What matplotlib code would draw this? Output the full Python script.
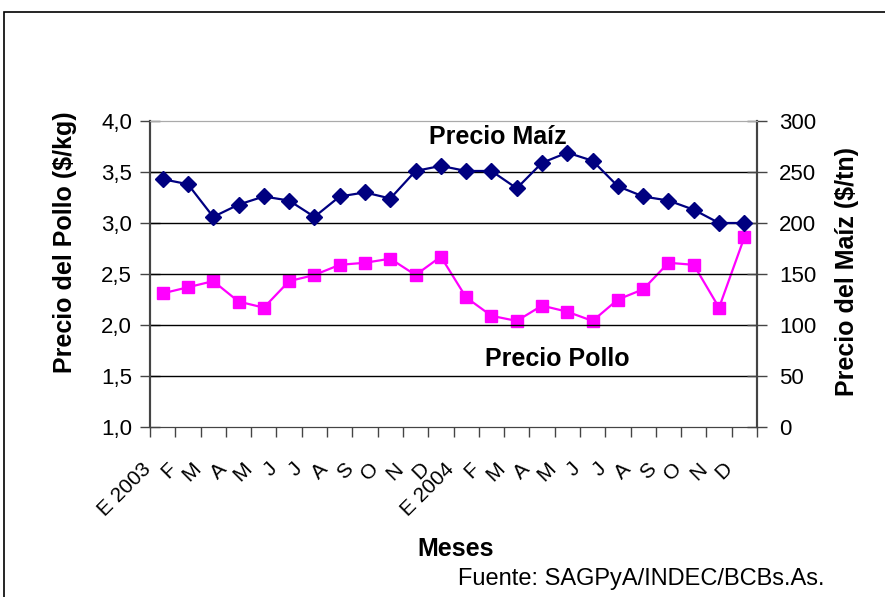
import matplotlib.pyplot as plt
import numpy as np
from matplotlib.patches import Rectangle
from matplotlib.transforms import ScaledTranslation

plt.rcParams['font.family'] = ['Liberation Sans', 'DejaVu Sans']

# Monthly data Jan 2003 - Dec 2004
meses = ['E 2003', 'F', 'M', 'A', 'M', 'J', 'J', 'A', 'S', 'O', 'N', 'D',
         'E 2004', 'F', 'M', 'A', 'M', 'J', 'J', 'A', 'S', 'O', 'N', 'D']
precio_pollo = [2.31, 2.37, 2.43, 2.23, 2.17, 2.43, 2.49, 2.59, 2.61, 2.65, 2.49, 2.67,
                2.27, 2.09, 2.04, 2.19, 2.13, 2.04, 2.25, 2.35, 2.61, 2.59, 2.17, 2.86]
precio_maiz = [243, 238, 206, 218, 226, 222, 206, 226, 230, 224, 251, 256,
               251, 251, 234, 259, 269, 261, 236, 226, 222, 213, 200, 200]

W, H = 885, 597
fig = plt.figure(figsize=(W / 100, H / 100), dpi=100)

# outer frame of the chart
fig.patches.append(Rectangle((4 / W, -0.1), 1.2, 1.1 - 12 / H, transform=fig.transFigure,
                             fill=False, edgecolor='black', linewidth=1.2))

ax = fig.add_axes([150 / W, 1 - 427 / H, 607 / W, 306 / H])
ax2 = ax.twinx()

x = np.arange(len(meses))
ax.plot(x, precio_pollo, color='#FF00FF', marker='s', markersize=8.5, linewidth=1.6)
ax2.plot(x, precio_maiz, color='#000080', marker='D', markersize=8.5, linewidth=1.6)

ax.set_xlim(-0.5, len(meses) - 0.5)
ax.set_ylim(1.0, 4.0)
ax2.set_ylim(0, 300)

yt = np.arange(1.0, 4.01, 0.5)
ax.set_yticks(yt)
ax.set_yticklabels([f'{v:.1f}'.replace('.', ',') for v in yt], fontsize=16)
ax2.set_yticks(np.arange(0, 301, 50))
ax2.tick_params(axis='y', labelsize=16, direction='inout', length=14, width=1,
                color='#444444', pad=9)
ax.tick_params(axis='y', direction='inout', length=14, width=1, color='#444444', pad=6)

ax.set_xticks(np.arange(-0.5, len(meses), 1.0), minor=True)
ax.set_xticks(x)
ax.set_xticklabels(meses, rotation=45, ha='right', va='center',
                   rotation_mode='anchor', fontsize=15)
ax.tick_params(axis='x', which='major', length=0, pad=28)
ax.tick_params(axis='x', which='minor', length=7, width=1, color='#444444')
shift = ScaledTranslation(-15 / 100, 0, fig.dpi_scale_trans)
for lab in ax.get_xticklabels():
    lab.set_transform(lab.get_transform() + shift)

for v in yt[1:-1]:
    ax.axhline(v, color='black', linewidth=1)
for a in (ax, ax2):
    a.spines['top'].set_color('#aaaaaa')
    for s in ('left', 'right', 'bottom'):
        a.spines[s].set_color('#444444')
    a.spines['left'].set_linewidth(1.5)
    a.spines['right'].set_linewidth(1.5)

ax.set_ylabel('Precio del Pollo ($/kg)', fontsize=18, fontweight='bold')
ax.yaxis.set_label_coords(-0.120, 0.605)
ax2.set_ylabel('Precio del Maíz ($/tn)', fontsize=18, fontweight='bold')
ax2.yaxis.set_label_coords(1.1285, 0.507)

fig.text(498 / W, 1 - 137 / H, 'Precio Maíz', fontsize=18, fontweight='bold', ha='center', va='center')
fig.text(557 / W, 1 - 359 / H, 'Precio Pollo', fontsize=18, fontweight='bold', ha='center', va='center')
fig.text(456 / W, 1 - 549 / H, 'Meses', fontsize=18, fontweight='bold', ha='center', va='center')
fig.text(641 / W, 1 - 579 / H, 'Fuente: SAGPyA/INDEC/BCBs.As.', fontsize=17, ha='center', va='center')

fig.savefig('out.png', dpi=100)
